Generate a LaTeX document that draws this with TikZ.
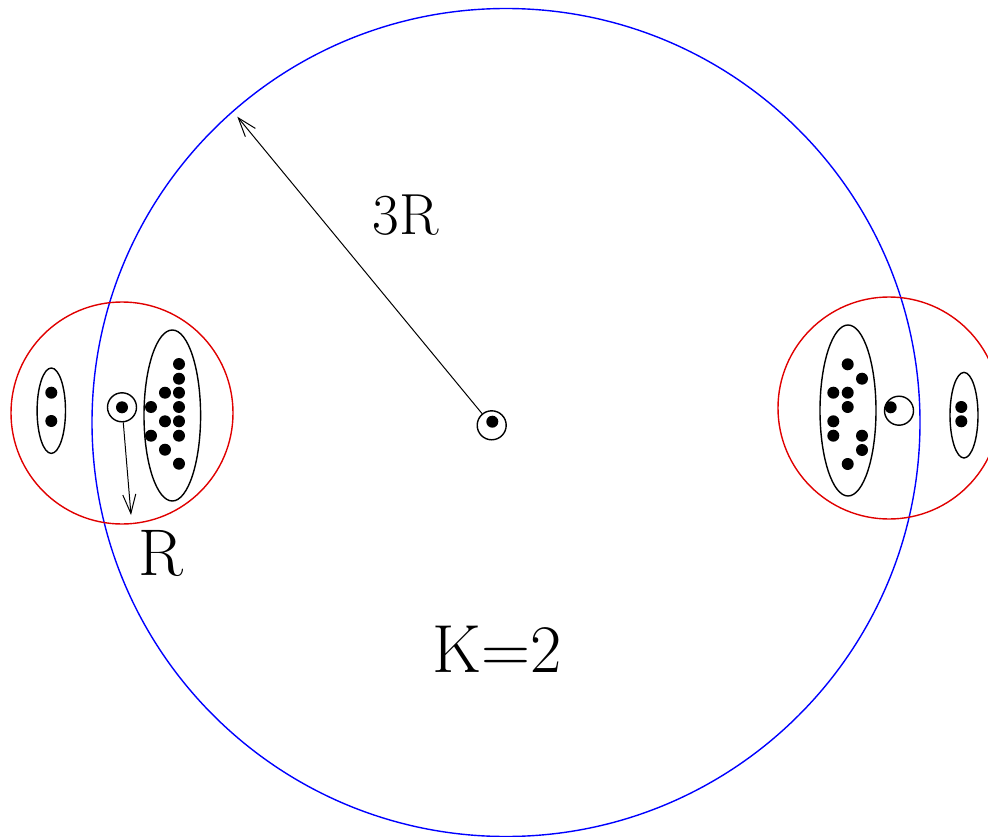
\documentclass[tikz,border=0pt]{standalone}
\usepackage{fontspec}
\usetikzlibrary{arrows.meta}
\tikzset{
  dotfill/.style={fill=black},
  grp/.style={draw=black, line width=1.4pt},
  ring/.style={draw=black, line width=1.4pt, circle, inner sep=0pt, minimum size=29pt},
  bigc/.style={draw=blue, line width=1.4pt},
  redc/.style={draw=red!88!black, line width=1.4pt},
  lbl/.style={anchor=base, inner sep=0pt},
  arr/.style={line width=1pt, -{Straight Barb[length=19pt, width=13pt, line width=1pt]}}
}
\begin{document}
\begin{tikzpicture}[x=1pt, y=-1pt]
\useasboundingbox (0,0) rectangle (988,837);
% big blue circle
\draw[bigc] (506,422.5) circle[radius=414];
% red circles
\draw[redc] (122,413) circle[radius=111];
\draw[redc] (889,408) circle[radius=111];

% ---- left cluster ----
\draw[grp] (51.3,410.7) ellipse[x radius=14.2, y radius=42.7];
\foreach \p in {(51.3,392.7),(51.3,421)} \fill[dotfill] \p circle[radius=6];
\node[ring] (lc) at (122,407.3) {};
\fill[dotfill] (122,407.3) circle[radius=6];
\draw[grp] (172.3,415.5) ellipse[x radius=28.3, y radius=85.5];
\foreach \p in {(179,364),(179,378.7),(165,392.7),(179,392.7),(151,407),(179,407),
  (165,421.3),(179,421.3),(151,435.7),(179,435.7),(165,449.7),(179,463.7)}
  \fill[dotfill] \p circle[radius=6];
\coordinate (ltip) at (131,515);
\draw[arr] (lc) -- (ltip);

% ---- right cluster ----
\draw[grp] (848,410.5) ellipse[x radius=28, y radius=85.5];
\foreach \p in {(847.7,364.3),(862,378.7),(833.3,392.7),(847.7,392.7),(847.7,407),
  (833.3,421.3),(833.3,435.7),(862,435.7),(862,450),(847.7,464)}
  \fill[dotfill] \p circle[radius=6];
\node[ring] (rc) at (899,410.7) {};
\fill[dotfill] (890.7,407.3) circle[radius=6];
\draw[grp] (964,415.2) ellipse[x radius=14, y radius=42.8];
\foreach \p in {(961.3,407),(961.3,421.3)} \fill[dotfill] \p circle[radius=6];

% ---- centre ----
\node[ring] (cc) at (491.7,425.3) {};
\fill[dotfill] (492.3,421.7) circle[radius=6];
\coordinate (ctip) at (237.3,116.7);
\draw[arr] (cc) -- (ctip);

% ---- labels ----
\node[lbl, font=\fontsize{58}{58}\selectfont] (l3r) at (406,235) {3R};
\node[lbl, font=\fontsize{66}{66}\selectfont] (lr) at (160.5,575) {R};
\node[lbl, font=\fontsize{68}{68}\selectfont] (lk) at (497.5,672) {K=2};
\end{tikzpicture}
\end{document}
